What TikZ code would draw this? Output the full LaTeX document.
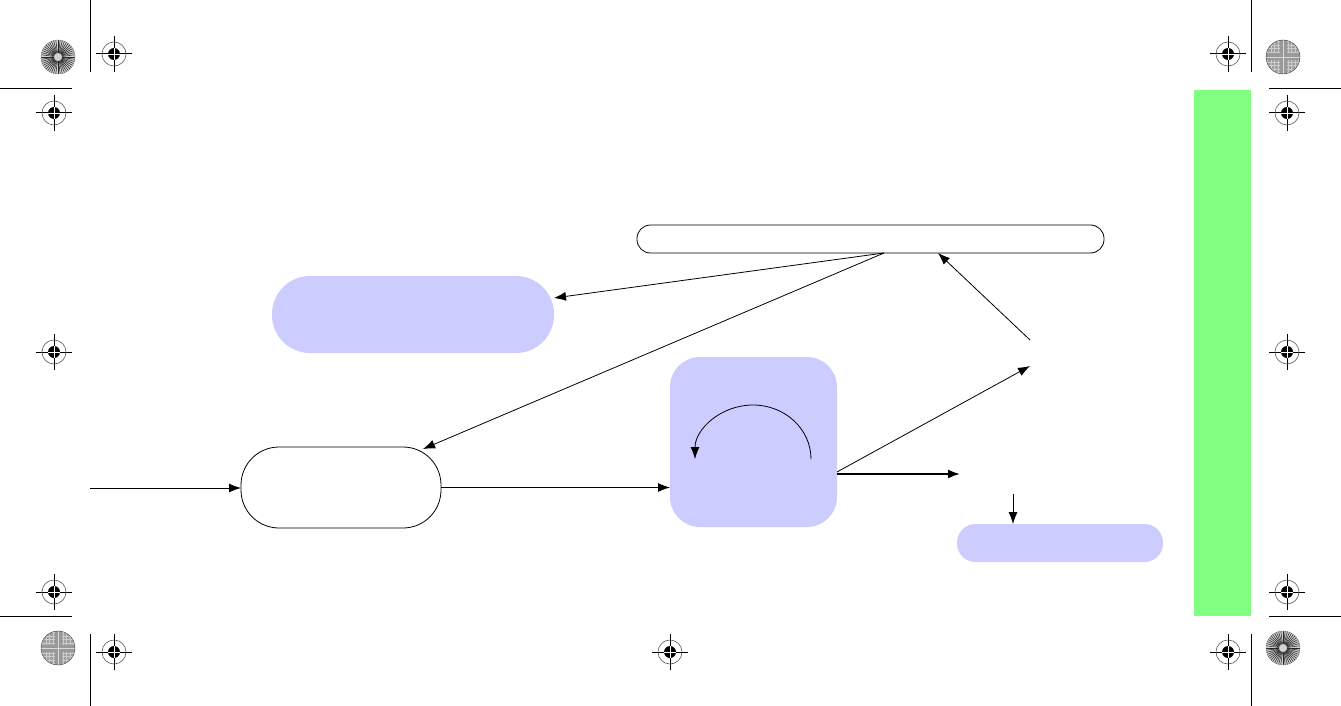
\documentclass[tikz,border=0pt]{standalone}
\usetikzlibrary{arrows.meta,calc}
\definecolor{lav}{HTML}{CCCCFF}
\definecolor{grn}{HTML}{80FF80}
\newcommand{\regmark}[2]{%
  \draw[line width=1pt] (#1-18,#2) -- (#1+18,#2) (#1,#2-18) -- (#1,#2+18);
  \draw[gray!70!black, line width=0.6pt] (#1,#2) circle[radius=12pt];
  \fill[black] (#1,#2) circle[radius=6pt];
  \draw[white, line width=0.8pt] (#1-6,#2) -- (#1+6,#2) (#1,#2-6) -- (#1,#2+6);
}
\newcommand{\starlight}[2]{%
  \fill[gray!35] (#1,#2) circle[radius=17pt];
  \foreach \a in {0,7.5,...,352.5} \draw[black!85, line width=0.55pt] ($(#1,#2)+(\a:4pt)$) -- ($(#1,#2)+(\a:17pt)$);
  \draw[gray, line width=0.4pt] (#1,#2) circle[radius=17pt];
}
\newcommand{\stardark}[2]{%
  \begin{scope}
    \clip (#1,#2) circle[radius=17pt];
    \fill[gray!75] (#1,#2) circle[radius=17pt];
    \foreach \r in {5,8.5,12,15.5} {
      \draw[gray!40, line width=0.6pt] ($(#1,#2)+(-\r pt,-20pt)$) -- ($(#1,#2)+(-\r pt,20pt)$);
      \draw[gray!40, line width=0.6pt] ($(#1,#2)+(\r pt,-20pt)$) -- ($(#1,#2)+(\r pt,20pt)$);
    }
    \fill[gray!75] ($(#1,#2)+(-20pt,-3.5pt)$) rectangle ($(#1,#2)+(20pt,3.5pt)$);
    \foreach \r in {5,8.5,12,15.5} {
      \draw[gray!40, line width=0.6pt] ($(#1,#2)+(-20pt,-\r pt)$) -- ($(#1,#2)+(20pt,-\r pt)$);
      \draw[gray!40, line width=0.6pt] ($(#1,#2)+(-20pt,\r pt)$) -- ($(#1,#2)+(20pt,\r pt)$);
    }
    \fill[gray!80] ($(#1,#2)+(-3.5pt,-20pt)$) rectangle ($(#1,#2)+(3.5pt,20pt)$);
    \fill[gray!80] ($(#1,#2)+(-20pt,-3.5pt)$) rectangle ($(#1,#2)+(20pt,3.5pt)$);
    \draw[gray!30, line width=0.5pt] ($(#1,#2)+(-20pt,0pt)$) -- ($(#1,#2)+(20pt,0pt)$) ($(#1,#2)+(0pt,-20pt)$) -- ($(#1,#2)+(0pt,20pt)$);
  \end{scope}
  \draw[gray!50!black, line width=0.4pt] (#1,#2) circle[radius=17pt];
}
\tikzset{
  arr/.style={-{Latex[length=12pt,width=9pt]}, line width=0.8pt},
  wpill/.style={draw=black, line width=0.8pt, fill=white, inner sep=0pt, outer sep=0pt},
  bbox/.style={fill=lav, inner sep=0pt, outer sep=0pt},
}
\begin{document}
\begin{tikzpicture}[x=1pt,y=-1pt]
\useasboundingbox (0,0) rectangle (1341,706);
% crop lines
\draw[line width=1pt] (90,0) -- (90,72) (0,89) -- (72,89);
\draw[line width=1pt] (1251,0) -- (1251,72) (1269,89) -- (1341,89);
\draw[line width=1pt] (0,616) -- (72,616) (90,634) -- (90,706);
\draw[line width=1pt] (1269,616) -- (1341,616) (1251,634) -- (1251,706);
% green tab
\fill[grn] (1194,90) rectangle (1251,616);
% registration marks
\regmark{114}{54}
\regmark{54}{113}
\regmark{1228}{54}
\regmark{1287}{113}
\regmark{54}{352}
\regmark{1287}{352}
\regmark{54}{592}
\regmark{114}{652}
\regmark{670}{652}
\regmark{1287}{592}
\regmark{1228}{652}
\starlight{58}{57}
\stardark{1283}{57}
\stardark{58}{648}
\starlight{1283}{648}
% nodes
\node[wpill, minimum width=467pt, minimum height=28pt, rounded corners=13.5pt] (bar) at (870.5,239) {};
\node[bbox, minimum width=282pt, minimum height=77pt, rounded corners=38pt] (boxA) at (413,314.5) {};
\node[wpill, minimum width=200pt, minimum height=81pt, rounded corners=38pt] (pill) at (341,487.5) {};
\node[bbox, minimum width=167pt, minimum height=170pt, rounded corners=30pt] (sq) at (753.5,442) {};
\node[bbox, minimum width=206pt, minimum height=38pt, rounded corners=18.5pt] (pillB) at (1060,543) {};
% coordinates
\coordinate (in) at (90,488);
\coordinate (b1) at (884,253);
\coordinate (b2) at (938,253);
\coordinate (pNE) at (423,449);
\coordinate (r1) at (1030,366);
\coordinate (r2) at (1030,340);
\coordinate (t1) at (960,474);
\coordinate (d1) at (1013,494);
\coordinate (as) at (811,459);
% connectors
\draw[arr] (in) -- (pill.west |- in);
\draw[arr] (pill.east) -- (sq.west |- pill.east);
\draw[arr] (b1) -- (boxA.east |- 0,298);
\draw[arr] (b1) -- (pNE);
\draw[arr] (sq.east |- 0,472) -- (r1);
\draw[-{Latex[length=12pt,width=9pt]}, line width=1.8pt] (sq.east |- 0,474) -- (t1);
\draw[arr] (r2) -- (b2);
\draw[arr] (d1) -- (pillB.north -| d1);
\draw[arr] (as) arc[start angle=0, end angle=180, x radius=58pt, y radius=54pt];
\end{tikzpicture}
\end{document}
